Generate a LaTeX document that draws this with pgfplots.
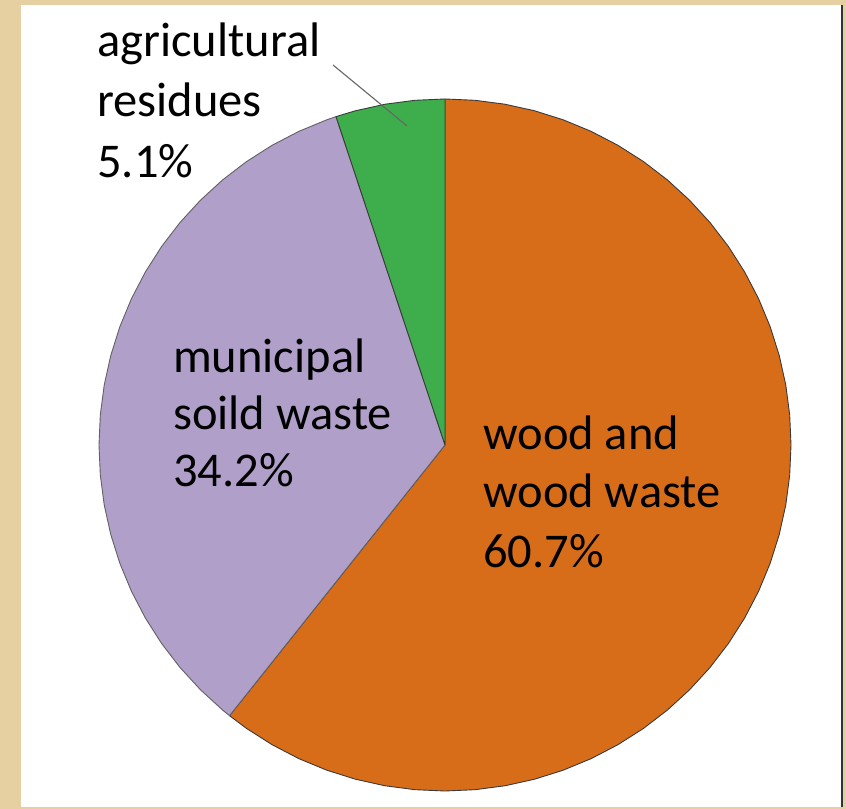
\documentclass[border=0pt]{standalone}
\usepackage{pgfplots}
\pgfplotsset{compat=1.18}
\usepgfplotslibrary{polar}
\usepackage{fontspec}
\setmainfont{Carlito}
\definecolor{parch}{HTML}{E6CFA0}
\definecolor{woodc}{HTML}{D86D19}
\definecolor{munic}{HTML}{B09FC8}
\definecolor{agric}{HTML}{3DAE4B}
\definecolor{edgec}{HTML}{3A3A3A}
\begin{document}
\begin{tikzpicture}[x=1bp,y=1bp]
% shares: wood and wood waste 60.7, municipal soild waste 34.2, agricultural residues 5.1
% slices run clockwise from 90 deg: wood 90 -> -128.52, municipal 231.48 -> 108.36, agricultural 108.36 -> 90
\fill[parch] (0,0) rectangle (846,809);
\fill[white] (21,2) rectangle (843,804);
\draw[black!80, line width=1.2bp] (842,2) -- (842,804);
\begin{polaraxis}[
  at={(445bp,364bp)}, anchor=center,
  scale only axis, width=692bp, height=692bp,
  hide axis, ymin=0, ymax=1, xmin=0, xmax=360,
  clip=false,
]
\addplot[fill=woodc, draw=edgec, line width=0.9bp, line join=round] coordinates {
(0,0) (90,1) (85,1) (80,1) (75,1) (70,1) (65,1) (60,1) (55,1) (50,1) (45,1) (40,1) (35,1) (30,1) (25,1) (20,1) (15,1) (10,1) (5,1) (0,1) (-5,1) (-10,1) (-15,1) (-20,1) (-25,1) (-30,1) (-35,1) (-40,1) (-45,1) (-50,1) (-55,1) (-60,1) (-65,1) (-70,1) (-75,1) (-80,1) (-85,1) (-90,1) (-95,1) (-100,1) (-105,1) (-110,1) (-115,1) (-120,1) (-125,1) (-128.52,1) (0,0)
} -- cycle;
\addplot[fill=munic, draw=edgec!80, line width=0.9bp, line join=round] coordinates {
(0,0) (231.48,1) (230,1) (225,1) (220,1) (215,1) (210,1) (205,1) (200,1) (195,1) (190,1) (185,1) (180,1) (175,1) (170,1) (165,1) (160,1) (155,1) (150,1) (145,1) (140,1) (135,1) (130,1) (125,1) (120,1) (115,1) (110,1) (108.36,1) (0,0)
} -- cycle;
\addplot[fill=agric, draw=edgec, line width=0.9bp, line join=round] coordinates {
(0,0) (108.36,1) (105,1) (100,1) (95,1) (90,1) (0,0)
} -- cycle;
\end{polaraxis}
\draw[black!60, line width=1.1bp] (333,744) -- (407,683);
\begin{scope}[every node/.style={anchor=base west, inner sep=0pt, font=\fontsize{48.5bp}{58bp}\selectfont, text=black}]
\node at (97,752) {agricultural};
\node at (97,692) {residues};
\node at (97,631) {5.1\%};
\node at (173,436) {municipal};
\node at (173,379) {soild waste};
\node at (173,322) {34.2\%};
\node at (483,359) {wood and};
\node at (483,301) {wood waste};
\node at (483,241) {60.7\%};
\end{scope}
\end{tikzpicture}
\end{document}
